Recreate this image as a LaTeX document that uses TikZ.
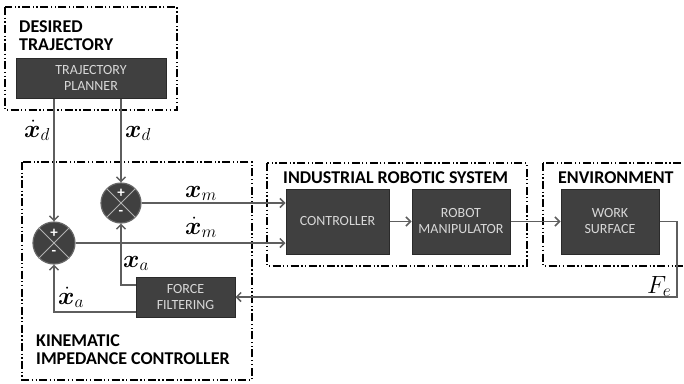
\documentclass[tikz,border=0pt]{standalone}
\usepackage{fontspec}
\setmainfont{Carlito}
\usepackage{amsmath,bm}
\usetikzlibrary{arrows.meta}
\definecolor{blockfill}{HTML}{404040}
\definecolor{blockedge}{HTML}{2A2A2A}
\definecolor{blocktext}{HTML}{D8D8D8}
\definecolor{wire}{HTML}{5E5E5E}
\begin{document}
\begin{tikzpicture}[x=1pt,y=-1pt,
  group/.style={draw=black, line width=1.4pt,
    dash pattern=on 8pt off 2.5pt on 1.3pt off 2.5pt on 1.3pt off 2.5pt},
  grouptitle/.style={font=\fontsize{18}{20}\selectfont\bfseries, anchor=west, align=left, inner sep=0},
  block/.style={draw=blockedge, fill=blockfill, line width=1pt, text=blocktext,
    font=\fontsize{14}{16}\selectfont, align=center, inner sep=0},
  summer/.style={circle, draw=gray!80!black, fill=blockfill, line width=1.2pt,
    minimum size=#1, inner sep=0},
  sign/.style={text=white, font=\fontsize{15}{15}\selectfont\bfseries, inner sep=0},
  wireline/.style={draw=wire, line width=1.5pt},
  flow/.style={wireline, -{Straight Barb[length=4.5pt,width=9pt,line width=1.5pt]}},
  sig/.style={font=\fontsize{24}{26}\selectfont, inner sep=0, anchor=base west}
]
\useasboundingbox (0,0) rectangle (684,383);

% group frames
\draw[group] (5,7) rectangle (177,110);
\draw[group] (22,162) rectangle (252,380);
\draw[group] (267,163) rectangle (527,266);
\draw[group] (543,163) rectangle (690,266);

\node[grouptitle] (tdes) at (19,36) {DESIRED\\[-2pt]TRAJECTORY};
\node[grouptitle] (tkin) at (36,350) {KINEMATIC\\[-2pt]IMPEDANCE CONTROLLER};
\node[grouptitle] (tind) at (283,178) {INDUSTRIAL ROBOTIC SYSTEM};
\node[grouptitle] (tenv) at (558,178) {ENVIRONMENT};

% blocks
\node[block, minimum width=150pt, minimum height=40pt] (plan) at (91,78) {TRAJECTORY\\PLANNER};
\node[block, minimum width=103pt, minimum height=65pt] (ctrl) at (337.5,221.5) {CONTROLLER};
\node[block, minimum width=98pt, minimum height=65pt] (robot) at (461,221.5) {ROBOT\\MANIPULATOR};
\node[block, minimum width=98pt, minimum height=65pt] (work) at (610,221.5) {WORK\\SURFACE};
\node[block, minimum width=99pt, minimum height=40pt] (force) at (185.5,297) {FORCE\\FILTERING};

% summing junctions: + on top, - below
\node[summer=42pt] (s1) at (54,243) {};
\node[summer=40pt] (s2) at (121,203) {};
\foreach \s in {s1,s2}{
  \draw[draw=gray!60, line width=0.9pt] (\s.north west) -- (\s.south east)
    (\s.north east) -- (\s.south west);
  \node[sign] at ([yshift=10pt]\s.center) {+};
  \node[sign] at ([yshift=-10pt]\s.center) {-};
}

% signal flow
\draw[flow] (s1 |- plan.south) -- (s1.north);
\draw[flow] (s2 |- plan.south) -- (s2.north);
\draw[flow] (s2.east) -- (ctrl.west |- s2);
\draw[flow] (s1.east) -- (ctrl.west |- s1);
\draw[flow] (ctrl) -- (robot);
\draw[flow] (robot) -- (work);
\coordinate (fr) at (677,221.5);
\coordinate (fb) at (677,297);
\draw[flow] (work.east) -- (fr) -- (fb) -- (force.east);
\coordinate (xa) at (121,285);
\coordinate (xda) at (54,312);
\draw[flow] (force.west |- xa) -- (xa) -- (s2.south);
\draw[flow] (force.west |- xda) -- (xda) -- (s1.south);

% signal labels
\node[sig] (ldd) at (24,137) {$\bm{\dot x}_d$};
\node[sig] (ld) at (125,137) {$\bm{x}_d$};
\node[sig] (lm) at (185,197) {$\bm{x}_m$};
\node[sig] (ldm) at (185,234) {$\bm{\dot x}_m$};
\node[sig] (la) at (123,267) {$\bm{x}_a$};
\node[sig] (lda) at (58,304) {$\bm{\dot x}_a$};
\node[sig] (lfe) at (647,293) {$F_e$};
\end{tikzpicture}
\end{document}
